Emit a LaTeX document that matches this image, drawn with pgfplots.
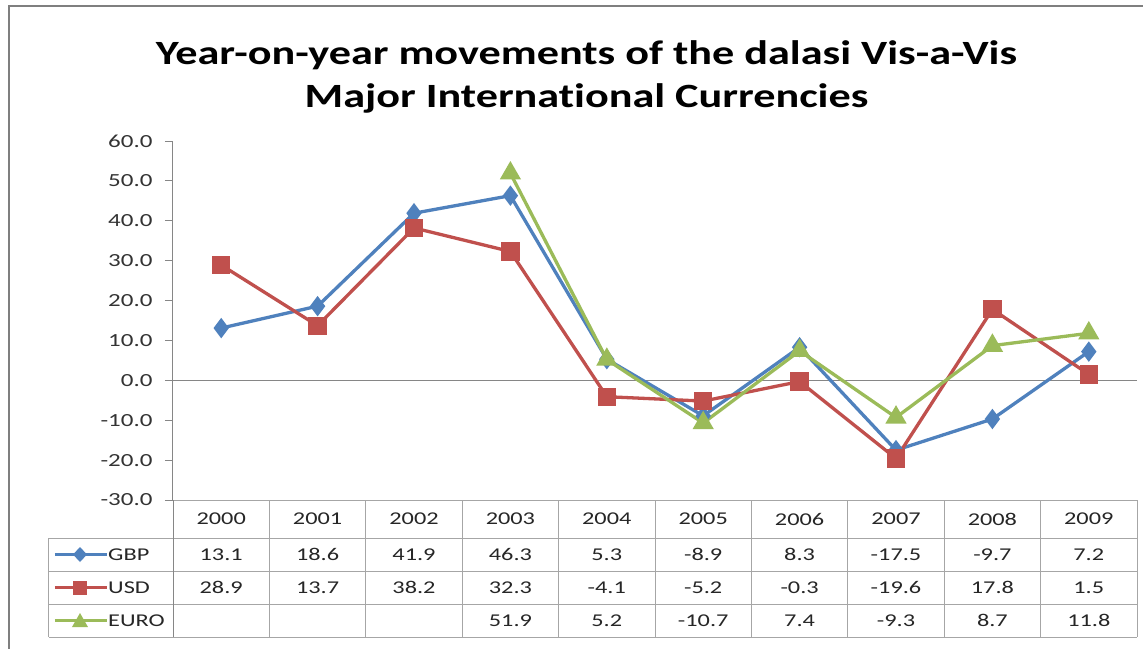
\documentclass[border=0pt]{standalone}
\usepackage{pgfplots}
\pgfplotsset{compat=1.18}
\usepackage{fontspec}
\setmainfont{Carlito}[FakeStretch=1.35]
\newfontfamily\titlefont{Carlito}[FakeStretch=1.3,Ligatures=NoCommon]
\definecolor{cgbp}{HTML}{4F81BD}
\definecolor{cusd}{HTML}{C0504D}
\definecolor{ceur}{HTML}{9BBB59}
\definecolor{cax}{HTML}{868686}
\definecolor{cgrid}{HTML}{A6A6A6}
\definecolor{cframe}{HTML}{7F7F7F}
\begin{document}
\begin{tikzpicture}[x=1pt,y=1pt]
\useasboundingbox (-173,-148) rectangle (970,500);
\fill[white] (-173,-148) rectangle (970,500);
% outer frame
\draw[cframe,line width=2pt] (-164,-160) -- (-164,494) -- (980,494);
\begin{axis}[
  at={(0,0)}, anchor=south west,
  scale only axis, width=964pt, height=359pt,
  xmin=-0.5, xmax=9.5, ymin=-30, ymax=60,
  axis x line=none, axis y line*=left,
  axis line style={cax,line width=1pt},
  xtick=\empty,
  ytick={-30,-20,...,60},
  yticklabels={-30.0,-20.0,-10.0,0.0,10.0,20.0,30.0,40.0,50.0,60.0},
  tick align=outside, major tick length=8pt,
  tick style={cax,line width=1pt},
  yticklabel style={font=\fontsize{18.5}{22}\selectfont, text=black!80, xshift=-9pt},
  clip=false,
]
\draw[cax,line width=1pt] (axis cs:-0.5,0) -- (axis cs:9.5,0);
\addplot[cgbp,line width=3.3pt,mark=diamond*,mark size=7.5pt,mark options={solid}] coordinates {
 (0,13.1) (1,18.6) (2,41.9) (3,46.3) (4,5.3) (5,-8.9) (6,8.3) (7,-17.5) (8,-9.7) (9,7.2)};
\addplot[cusd,line width=3.3pt,mark=square*,mark size=7.5pt] coordinates {
 (0,28.9) (1,13.7) (2,38.2) (3,32.3) (4,-4.1) (5,-5.2) (6,-0.3) (7,-19.6) (8,17.8) (9,1.5)};
\addplot[ceur,line width=3.3pt,mark=triangle*,mark size=9pt] coordinates {
 (3,51.9) (4,5.2) (5,-10.7) (6,7.4) (7,-9.3) (8,8.7) (9,11.8)};
\end{axis}
% title
\node[anchor=base,font=\titlefont\fontsize{34}{40}\selectfont\bfseries] at (413.5,435) {Year-on-year movements of the dalasi Vis-a-Vis};
\node[anchor=base,font=\titlefont\fontsize{34}{40}\selectfont\bfseries] at (413.5,392) {Major International Currencies};
% table grid
\begin{scope}[cgrid,line width=1pt]
\draw (0,0) -- (964,0);
\draw (-124,-38) -- (964,-38);
\draw (-124,-71) -- (964,-71);
\draw (-124,-104) -- (964,-104);
\draw (-124,-137) -- (964,-137);
\draw (-124,-38) -- (-124,-137);
\foreach \k in {0,...,10} \draw (96.4*\k,0) -- (96.4*\k,-137);
\end{scope}
\draw[cax,line width=1pt] (0,0) -- (0,-137);
\begin{scope}[font=\fontsize{18}{21}\selectfont, text=black!85]
\foreach \v [count=\i from 0] in {2000,2001,2002,2003,2004,2005,2006,2007,2008,2009}
  \node at (96.4*\i+48.2,-19) {\v};
\foreach \v [count=\i from 0] in {13.1,18.6,41.9,46.3,5.3,-8.9,8.3,-17.5,-9.7,7.2}
  \node at (96.4*\i+48.2,-54.5) {\v};
\foreach \v [count=\i from 0] in {28.9,13.7,38.2,32.3,-4.1,-5.2,-0.3,-19.6,17.8,1.5}
  \node at (96.4*\i+48.2,-87.5) {\v};
\foreach \v [count=\i from 3] in {51.9,5.2,-10.7,7.4,-9.3,8.7,11.8}
  \node at (96.4*\i+48.2,-120.5) {\v};
% legend keys
\draw[cgbp,line width=3pt] (-118,-54.5) -- (-66,-54.5);
\fill[cgbp] (-100,-54.5) -- (-93,-47) -- (-86,-54.5) -- (-93,-62) -- cycle;
\node[anchor=west,inner sep=0pt] at (-65,-54.5) {GBP};
\draw[cusd,line width=3pt] (-118,-87.5) -- (-66,-87.5);
\fill[cusd] (-100,-94.5) rectangle (-86,-80.5);
\node[anchor=west,inner sep=0pt] at (-65,-87.5) {USD};
\draw[ceur,line width=3pt] (-118,-120.5) -- (-66,-120.5);
\fill[ceur] (-101,-127) -- (-85,-127) -- (-93,-113) -- cycle;
\node[anchor=west,inner sep=0pt] at (-65,-120.5) {EURO};
\end{scope}
\end{tikzpicture}
\end{document}
